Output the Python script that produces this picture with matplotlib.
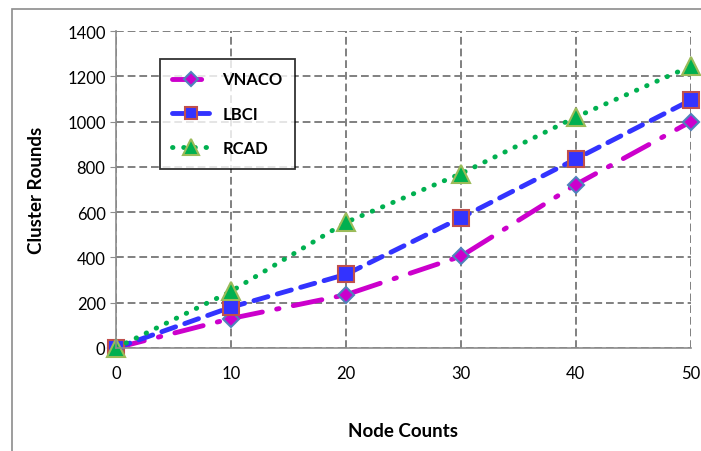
import matplotlib
matplotlib.use("Agg")
import matplotlib.pyplot as plt
from matplotlib.patches import Rectangle

plt.rcParams['font.family'] = ['Lato', 'DejaVu Sans']

# data
node_counts = [0, 10, 20, 30, 40, 50]
vnaco = [0, 130, 235, 405, 722, 1000]
lbci = [0, 180, 325, 575, 835, 1095]
rcad = [0, 250, 555, 770, 1020, 1245]

fig = plt.figure(figsize=(7.01, 4.52), dpi=100)
ax = fig.add_axes([0.1655, 0.228, 0.82, 0.701])

# outer chart border (partly clipped in the original)
fig.patches.append(Rectangle((12 / 701, -0.1), 1.2, 1 - 10 / 452 + 0.1,
                             transform=fig.transFigure, fill=False,
                             edgecolor='#8c8c8c', linewidth=1.2))

ax.plot(node_counts, vnaco, color='#cc00cc', linewidth=3.5,
        linestyle=(0, (6, 3, 0.5, 3)), marker='D', markersize=8,
        markerfacecolor='#cc00cc', markeredgecolor='#4f81bd',
        markeredgewidth=1.5, label='VNACO', dash_capstyle='round')
ax.plot(node_counts, lbci, color='#3333ff', linewidth=3.5,
        linestyle=(0, (3, 2)), marker='s', markersize=11,
        markerfacecolor='#3333ff', markeredgecolor='#c0504d',
        markeredgewidth=1.5, label='LBCI', dash_capstyle='round')
ax.plot(node_counts, rcad, color='#00b050', linewidth=3.5,
        linestyle=(0, (0.1, 2.2)), marker='^', markersize=13,
        markerfacecolor='#00b050', markeredgecolor='#9bbb59',
        markeredgewidth=1.5, label='RCAD', dash_capstyle='round')

ax.set_xlim(0, 50)
ax.set_ylim(0, 1400)
ax.set_xticks(node_counts)
ax.set_yticks(range(0, 1401, 200))
ax.grid(True, color='#808080', linestyle=(0, (4, 2)), linewidth=1.4)
for s in ['top', 'right']:
    ax.spines[s].set_visible(False)
for s in ['left', 'bottom']:
    ax.spines[s].set_color('#8c8c8c')
    ax.spines[s].set_linewidth(1.2)
ax.tick_params(axis='both', labelsize=12, colors='#8c8c8c', labelcolor='black', length=4)
ax.tick_params(axis='x', length=0, pad=12)
for t in ax.get_xticklabels() + ax.get_yticklabels():
    t.set_clip_on(False)

ax.set_xlabel('Node Counts', fontsize=13.5, fontweight='bold', labelpad=30)
ax.set_ylabel('Cluster Rounds', fontsize=13.5, fontweight='bold', labelpad=16)

leg = ax.legend(loc='upper left', bbox_to_anchor=(0.0765, 0.912),
                prop={'weight': 'bold', 'size': 12}, frameon=True, fancybox=False,
                edgecolor='black', handlelength=2.2, labelspacing=1.1,
                borderpad=0.75, handletextpad=0.8, markerscale=0.85,
                borderaxespad=0)
leg.get_frame().set_linewidth(1.3)
for line in ax.get_lines():
    line.set_clip_on(False)

fig.savefig('out.png', dpi=100)
